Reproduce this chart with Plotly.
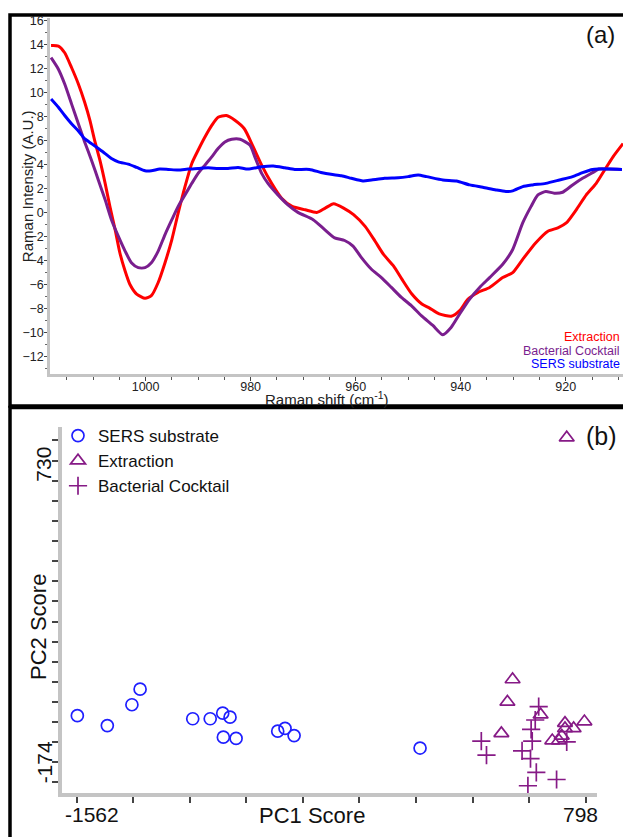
import plotly.graph_objects as go

W, H = 623, 837

# ---------------- Panel (a) data ----------------
series_names = ["Extraction", "Bacterial Cocktail", "SERS substrate"]
series_colors = ["#ff0000", "#7a1e8e", "#0000ff"]

shift_ext = [1018.0, 1016.6, 1015.4, 1014.1, 1012.8, 1011.6, 1010.6, 1009.7, 1008.7, 1007.7,
             1006.8, 1005.8, 1004.9, 1003.9, 1003.0, 1001.7, 1000.1, 998.9, 997.6, 996.3,
             995.0, 993.8, 992.5, 991.2, 990.0, 988.7, 987.4, 986.2, 984.6, 983.0,
             981.2, 979.5, 977.9, 976.0, 974.1, 972.1, 969.6, 967.4, 965.8, 964.2,
             962.3, 960.4, 958.2, 956.3, 954.7, 952.8, 951.2, 949.3, 947.4, 946.0,
             944.1, 941.8, 940.2, 938.6, 936.7, 934.5, 932.0, 930.1, 928.2, 925.7,
             923.4, 921.5, 919.9, 918.0, 916.1, 914.2, 912.6, 911.0, 909.1]
int_ext = [13.9, 13.86, 13.3, 12.07, 10.7, 9.17, 7.66, 6.0, 4.35, 2.42,
           0.5, -1.43, -3.36, -4.88, -5.98, -6.8, -7.16, -6.94, -5.84, -4.19,
           -2.26, -0.06, 2.15, 4.08, 5.18, 6.28, 7.25, 7.93, 8.07, 7.68,
           6.97, 5.45, 3.94, 2.42, 1.18, 0.5, 0.22, 0.0, 0.36, 0.72,
           0.36, -0.19, -1.16, -2.4, -3.5, -4.46, -5.56, -6.8, -7.63, -7.95,
           -8.46, -8.65, -8.18, -7.22, -6.67, -6.25, -5.43, -5.01, -3.91, -2.53,
           -1.57, -1.29, -0.88, 0.22, 1.46, 2.42, 3.53, 4.63, 5.73]

shift_bac = [1018.0, 1016.6, 1015.4, 1014.1, 1012.8, 1011.6, 1010.3, 1009.0, 1007.7, 1006.5,
             1005.2, 1003.9, 1002.7, 1001.4, 1000.1, 998.9, 997.6, 996.3, 995.0, 993.8,
             992.5, 991.2, 990.0, 988.7, 987.4, 986.2, 984.9, 983.6, 982.0, 980.1,
             979.2, 977.9, 976.7, 974.8, 972.9, 971.0, 968.1, 965.9, 964.0, 962.1,
             960.5, 958.9, 957.0, 955.1, 953.2, 951.3, 949.4, 947.5, 945.3, 943.4,
             941.8, 940.2, 938.3, 936.4, 934.5, 932.0, 930.1, 928.2, 926.6, 925.3,
             923.8, 922.2, 920.6, 918.7, 916.8, 914.9, 913.7, 911.8, 909.3]
int_bac = [12.89, 11.93, 10.69, 9.04, 7.38, 5.87, 4.35, 2.7, 1.05, -0.61,
           -1.98, -3.22, -4.19, -4.6, -4.6, -4.19, -3.22, -1.85, -0.61, 0.5,
           1.46, 2.42, 3.25, 3.94, 4.63, 5.32, 5.87, 6.09, 6.09, 5.59,
           4.63, 3.25, 2.42, 1.46, 0.63, 0.0, -0.61, -1.43, -2.12, -2.34,
           -2.81, -3.77, -4.74, -5.43, -6.25, -7.08, -7.77, -8.6, -9.42, -10.19,
           -9.56, -8.46, -7.22, -6.25, -5.43, -4.32, -3.09, -0.88, 0.5, 1.46,
           1.74, 1.6, 1.68, 2.29, 2.84, 3.31, 3.61, 3.61, 3.58]

shift_sers = [1018.0, 1016.6, 1015.4, 1014.1, 1012.8, 1011.6, 1010.3, 1009.0, 1007.7, 1006.5,
              1005.2, 1003.3, 1001.7, 1000.1, 998.9, 997.3, 995.7, 993.8, 991.9, 990.0,
              988.1, 986.2, 984.3, 982.4, 980.5, 977.9, 975.7, 973.5, 971.6, 968.8,
              966.6, 964.7, 962.7, 960.8, 958.6, 957.0, 954.5, 951.9, 950.0, 948.1,
              946.5, 943.4, 940.8, 938.3, 935.8, 933.3, 931.4, 930.1, 928.2, 926.3,
              923.8, 921.2, 918.7, 916.8, 914.9, 913.7, 911.8, 909.3]
int_sers = [9.45, 8.76, 8.07, 7.38, 6.78, 6.14, 5.73, 5.32, 4.9, 4.49,
            4.21, 4.02, 3.75, 3.47, 3.47, 3.61, 3.58, 3.53, 3.61, 3.66,
            3.72, 3.66, 3.66, 3.75, 3.61, 3.8, 3.86, 3.72, 3.58, 3.58,
            3.33, 3.17, 3.06, 2.84, 2.62, 2.7, 2.84, 2.89, 2.98, 3.11,
            2.98, 2.7, 2.62, 2.29, 2.09, 1.87, 1.74, 1.79, 2.15, 2.29,
            2.42, 2.7, 2.98, 3.31, 3.58, 3.61, 3.61, 3.58]

y_ticks_a = list(range(-12, 17, 2))
x_ticks_a = [1000, 980, 960, 940, 920]

# ---------------- Panel (b) data ----------------
pc1_sers = [-1559, -1420, -1306, -1268, -1024, -943, -885, -851, -882, -823, -630, -596, -554, 30]
pc2_sers = [-24, -56, 11, 61, -34, -34, -16, -29, -93, -97, -74, -65, -88, -128]

pc1_ext = [459, 435, 589, 407, 702, 702, 742, 792, 643, 674, 687, 710]
pc2_ext = [92, 20, -21, -81, -48, -65, -65, -43, -104, -104, -89, 868]

pc1_bac = [314, 338, 580, 564, 545, 550, 503, 542, 569, 530, 663, 710]
pc2_bac = [-106, -151, 5, -38, -68, -106, -137, -162, -206, -249, -229, -108]

pc1_tick0, pc1_tickstep = -1562, 262.22
pc2_tick0, pc2_tickstep = 730, 64.571
pc1_tickvals = [pc1_tick0 + k * pc1_tickstep for k in range(10)]
pc2_tickvals = [pc2_tick0 + k * pc2_tickstep for k in range(2, -16, -1)]
pc1_labels = {-1562: "-1562", 798: "798"}
pc2_labels = {730: "730", -174: "-174"}

FONT = "Liberation Sans"
purple_b = "#861a86"
blue_b = "#1f1fff"


def px(x):
    return x / W


def py(y):
    return 1 - y / H


fig = go.Figure()

for name, color, xs, ys in zip(series_names, series_colors,
                               [shift_ext, shift_bac, shift_sers],
                               [int_ext, int_bac, int_sers]):
    fig.add_trace(go.Scatter(x=xs, y=ys, mode="lines", name=name,
                             line=dict(color=color, width=3, shape="spline", smoothing=0.6),
                             showlegend=False, xaxis="x", yaxis="y"))

fig.add_trace(go.Scatter(x=pc1_sers, y=pc2_sers, mode="markers", name="SERS substrate",
                         marker=dict(symbol="circle-open", size=12, color=blue_b,
                                     line=dict(width=1.7, color=blue_b)),
                         xaxis="x2", yaxis="y2", legend="legend"))
fig.add_trace(go.Scatter(x=pc1_ext, y=pc2_ext, mode="markers", name="Extraction",
                         marker=dict(symbol="triangle-up-open", size=13, color=purple_b,
                                     line=dict(width=1.7, color=purple_b)),
                         xaxis="x2", yaxis="y2", legend="legend"))
fig.add_trace(go.Scatter(x=pc1_bac, y=pc2_bac, mode="markers", name="Bacterial Cocktail",
                         marker=dict(symbol="cross-thin-open", size=13, color=purple_b,
                                     line=dict(width=1.7, color=purple_b)),
                         xaxis="x2", yaxis="y2", legend="legend"))

axis_common = dict(showgrid=False, zeroline=False, showline=True, linecolor="#c4c4c4",
                   mirror=False, ticks="outside", tickcolor="#444")


def note(text, x, y, size, xref="paper", yref="paper", color="#111", **kw):
    d = dict(text=text, x=x, y=y, xref=xref, yref=yref, showarrow=False,
             xanchor="center", yanchor="middle",
             font=dict(size=size, color=color, family=FONT))
    d.update(kw)
    return d


annotations = [
    note("Raman Intensity (A.U.)", px(27), py(183), 15, color="#222", textangle=-90),
    note("Raman shift (cm<sup>-1</sup>)", px(327), py(396), 15, color="#222"),
    note("(a)", px(600), py(31), 24),
    note("(b)", px(601), py(434), 25),
    note("PC1 Score", px(312), py(815), 22),
    note("PC2 Score", px(38), py(626), 22, textangle=-90),
]
for i, (name, color) in enumerate(zip(series_names, series_colors)):
    annotations.append(note(name, px(622), py(335 + 13.5 * i), 12.5, color=color, xanchor="right"))
for val, lab in pc1_labels.items():
    annotations.append(note(lab, val, py(814), 21, xref="x2", xshift=15 if val < 0 else -5))
for val, lab in pc2_labels.items():
    annotations.append(note(lab, px(44), val, 21, yref="y2", textangle=-90,
                            yshift=16 if val > 0 else 0))

shapes = [
    dict(type="rect", xref="paper", yref="paper", x0=px(10), x1=px(640), y0=py(11), y1=py(404),
         line=dict(color="black", width=3.5), layer="below"),
    dict(type="rect", xref="paper", yref="paper", x0=px(10), x1=px(640), y0=py(405.5), y1=py(850),
         line=dict(color="black", width=3.5), layer="below"),
]

fig.update_layout(
    width=W, height=H,
    margin=dict(l=0, r=0, t=0, b=0),
    paper_bgcolor="white", plot_bgcolor="rgba(0,0,0,0)",
    font=dict(family=FONT, color="#222"),
    xaxis=dict(domain=[px(50), 1.0], range=[1018.2, 909.1], anchor="y",
               tickvals=x_ticks_a, ticklen=4, tickwidth=1, linewidth=2.5,
               tickfont=dict(size=12.5, color="#222"), ticklabelstandoff=-5,
               minor=dict(dtick=5, ticks="outside", ticklen=3, tickcolor="#555", tickwidth=1),
               **axis_common),
    yaxis=dict(domain=[py(372), py(14)], range=[-13.48, 16.2], anchor="x",
               tickvals=y_ticks_a, ticklen=3, tickwidth=1, linewidth=2.5,
               tickfont=dict(size=12.5, color="#222"), ticklabelstandoff=-2,
               minor=dict(dtick=1, ticks="outside", ticklen=2, tickcolor="#666", tickwidth=1),
               **axis_common),
    xaxis2=dict(domain=[px(61.7), px(596.7)], range=[-1631.5, 849], anchor="y2",
                tickvals=pc1_tickvals, showticklabels=False, ticklen=6, tickwidth=1.5,
                linewidth=4, **axis_common),
    yaxis2=dict(domain=[py(793), py(425)], range=[-273, 902.5], anchor="x2",
                tickvals=pc2_tickvals, showticklabels=False, ticklen=6, tickwidth=1.5,
                linewidth=4, **axis_common),
    legend=dict(x=px(58), y=py(416), xanchor="left", yanchor="top", bgcolor="rgba(0,0,0,0)",
                font=dict(size=17, color="#111", family=FONT), traceorder="normal",
                itemwidth=30, tracegroupgap=0),
    annotations=annotations,
    shapes=shapes,
)

fig.write_html("out.html", config={"displayModeBar": False},
               post_script="document.body.style.margin='0px';document.body.style.overflow='hidden';")
